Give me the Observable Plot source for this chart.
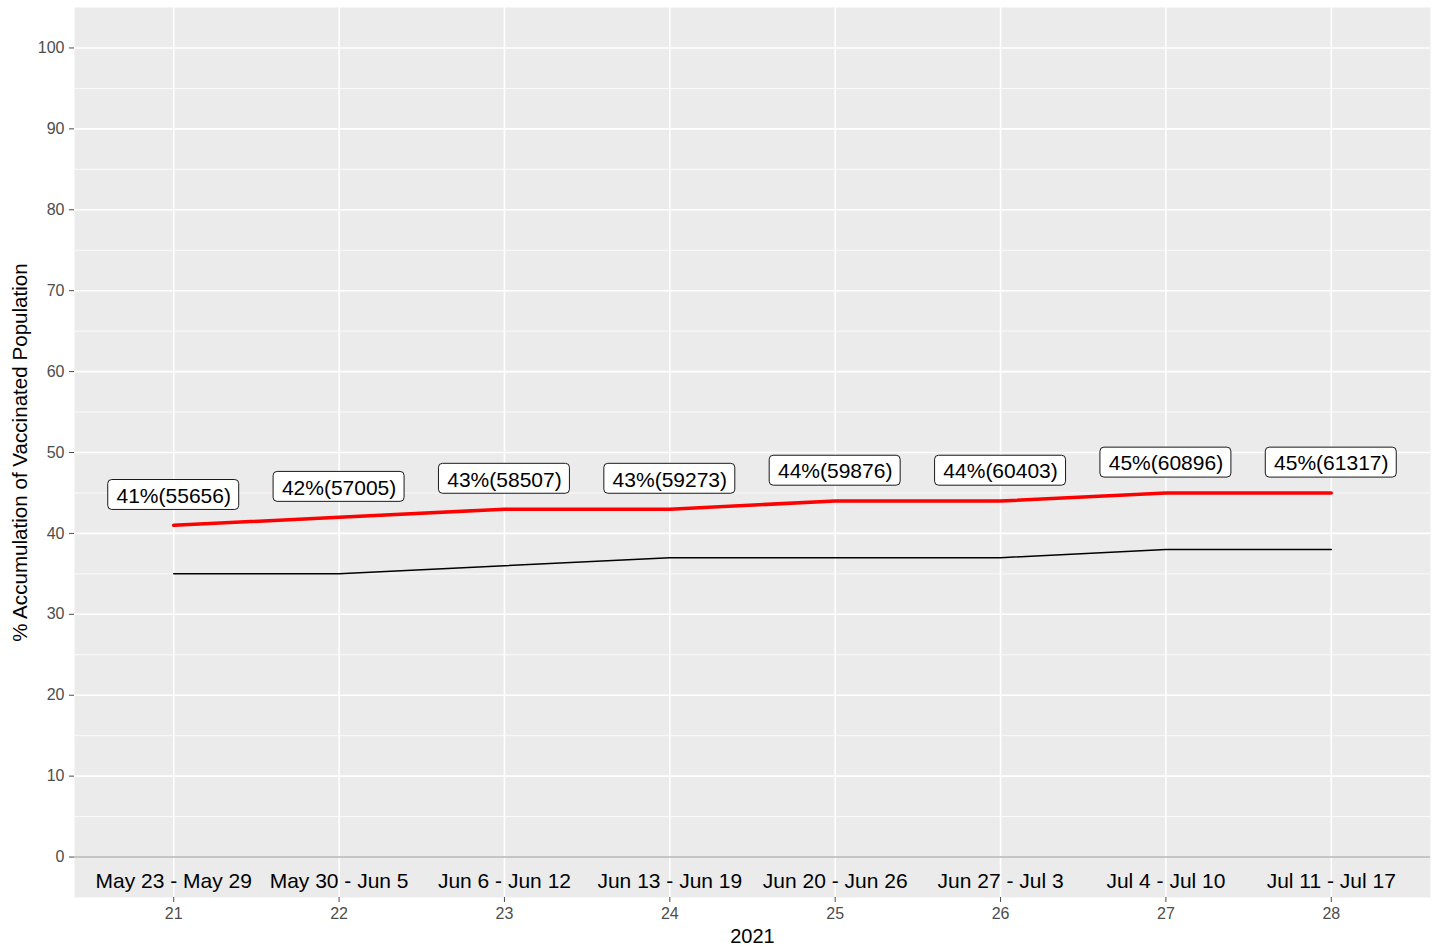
<!DOCTYPE html>
<html>
<head>
<meta charset="utf-8">
<script src="https://cdn.jsdelivr.net/npm/d3@7"></script>
<script src="https://cdn.jsdelivr.net/npm/@observablehq/plot@0.6"></script>
<style>
  html, body { margin: 0; padding: 0; background: #ffffff; }
  svg { display: block; }
</style>
</head>
<body>
<div id="chart"></div>
<script>
const weeks = [21, 22, 23, 24, 25, 26, 27, 28];
const weekLabels = ["May 23 - May 29", "May 30 - Jun 5", "Jun 6 - Jun 12", "Jun 13 - Jun 19",
                    "Jun 20 - Jun 26", "Jun 27 - Jul 3", "Jul 4 - Jul 10", "Jul 11 - Jul 17"];
const pctAtLeastOne = [41, 42, 43, 43, 44, 44, 45, 45];
const countsAtLeastOne = [55656, 57005, 58507, 59273, 59876, 60403, 60896, 61317];
const pctFully = [35, 35, 36, 37, 37, 37, 38, 38];
const yTicks = [0, 10, 20, 30, 40, 50, 60, 70, 80, 90, 100];
const yMinor = [5, 15, 25, 35, 45, 55, 65, 75, 85, 95];

const red = weeks.map((w, i) => ({week: w, pct: pctAtLeastOne[i], count: countsAtLeastOne[i]}));
const black = weeks.map((w, i) => ({week: w, pct: pctFully[i]}));
const wk = weeks.map((w, i) => ({week: w, label: weekLabels[i]}));

const labelNudge = 3.75;
const halfW = 0.396;
const halfH = 1.85;

const chart = Plot.plot({
  width: 1437,
  height: 950,
  marginLeft: 74,
  marginRight: 7,
  marginTop: 7,
  marginBottom: 53,
  style: {fontFamily: "'Liberation Sans', Arial, sans-serif", background: "#ffffff"},
  x: {domain: [20.4, 28.6]},
  y: {domain: [-5, 105]},
  marks: [
    Plot.frame({fill: "#ebebeb", stroke: null}),
    Plot.ruleY(yMinor, {stroke: "#ffffff", strokeWidth: 0.8}),
    Plot.ruleY(yTicks, {stroke: "#ffffff", strokeWidth: 1.6}),
    Plot.ruleX(weeks, {stroke: "#ffffff", strokeWidth: 1.6}),
    Plot.ruleY([0], {stroke: "#b3b3b3", strokeWidth: 1.6}),
    Plot.line(black, {x: "week", y: "pct", stroke: "#000000", strokeWidth: 1.5}),
    Plot.line(red, {x: "week", y: "pct", stroke: "#ff0000", strokeWidth: 3.5}),
    Plot.rect(red, {
      x1: d => d.week - halfW, x2: d => d.week + halfW,
      y1: d => d.pct + labelNudge - halfH, y2: d => d.pct + labelNudge + halfH,
      fill: "#ffffff", stroke: "#000000", strokeWidth: 0.9, rx: 4
    }),
    Plot.text(red, {
      x: "week", y: d => d.pct + labelNudge,
      text: d => `${d.pct}%(${d.count})`,
      fontSize: 21, fill: "#000000", dy: 1
    }),
    Plot.text(wk, {x: "week", y: () => -3, text: "label", fontSize: 21, fill: "#000000"}),
    Plot.axisY({ticks: yTicks, tickSize: 5, tickPadding: 5, fontSize: 16, color: "#4d4d4d", label: null}),
    Plot.axisX({ticks: weeks, tickSize: 5, tickPadding: 5, fontSize: 16, color: "#4d4d4d", label: null}),
    Plot.text(["% Accumulation of Vaccinated Population"], {
      frameAnchor: "left", dx: -54, rotate: -90, fontSize: 20.6, fill: "#000000",
      textAnchor: "middle", lineAnchor: "middle"
    }),
    Plot.text(["2021"], {frameAnchor: "bottom", dy: 39, fontSize: 20, fill: "#000000",
      textAnchor: "middle", lineAnchor: "middle"})
  ]
});
document.getElementById("chart").append(chart);
</script>
</body>
</html>
